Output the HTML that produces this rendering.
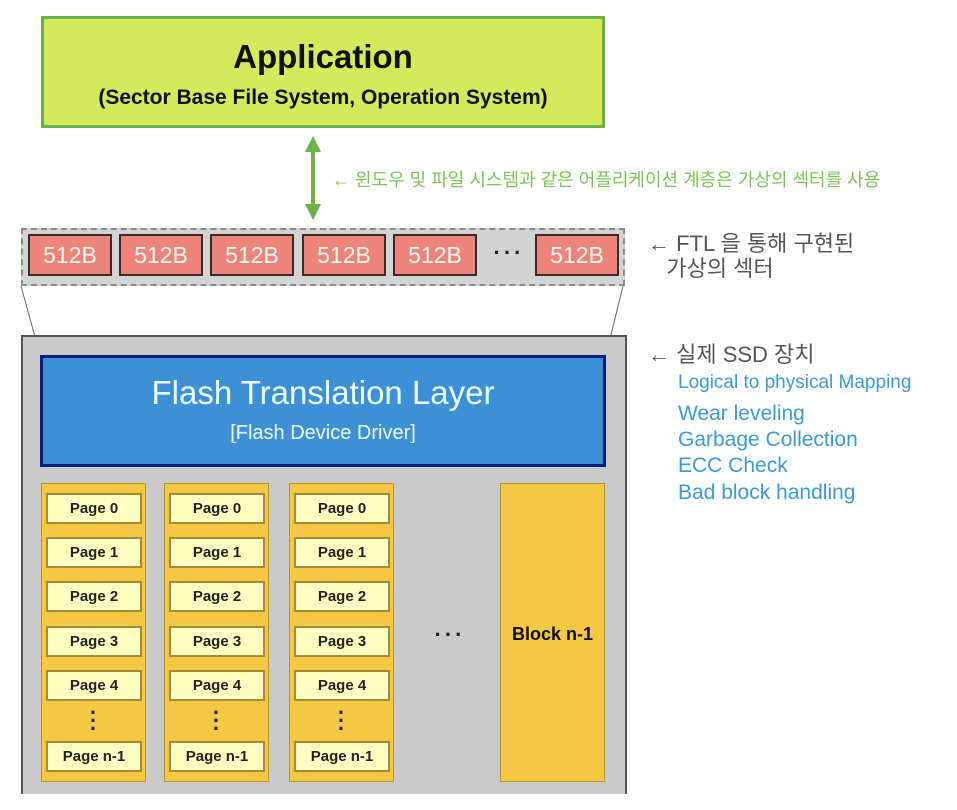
<!DOCTYPE html>
<html><head><meta charset="utf-8"><style>
body{margin:0;width:957px;height:810px;background:#fff;position:relative;overflow:hidden;font-family:"Liberation Sans","Noto Sans CJK KR",sans-serif}
.a{position:absolute;box-sizing:border-box}
.sec{top:234px;height:42px;width:84px;background:#ec8479;border:2px solid #3a2a28;color:#fff8f0;font-size:23px;text-align:center;line-height:38px}
.blk{top:483px;height:299px;width:105px;background:#f5c843;border:1px solid #b99228}
.pg{left:4px;width:96px;height:31px;background:#ffffc2;border:2px solid #a48b3a;font-size:15px;font-weight:bold;text-align:center;line-height:27px;color:#222;box-sizing:border-box;position:absolute}
.vd{position:absolute;left:0;width:100%;top:225px;text-align:center;font-size:22px;font-weight:bold;line-height:8px;color:#222}
.bl{color:#3c9ad2;font-size:21px;left:678px}
</style></head><body>
<div class="a" style="left:41px;top:16px;width:564px;height:112px;background:#d5ea5a;border:3px solid #6cb249"></div>
<div class="a" style="left:41px;top:38px;width:564px;text-align:center;font-size:33px;font-weight:bold;color:#111">Application</div>
<div class="a" style="left:41px;top:86px;width:564px;text-align:center;font-size:21px;color:#111;font-weight:bold">(Sector Base File System, Operation System)</div>
<svg class="a" style="left:0;top:0" width="957" height="810">
<line x1="313" y1="146" x2="313" y2="210" stroke="#6cb249" stroke-width="4"/>
<polygon points="313,136 305,152 321,152" fill="#6cb249"/>
<polygon points="313,220 305,204 321,204" fill="#6cb249"/>
<line x1="21" y1="286" x2="40" y2="355" stroke="#666" stroke-width="1"/>
<line x1="623" y1="286" x2="606" y2="355" stroke="#666" stroke-width="1"/>
</svg>
<div class="a" style="left:332px;top:166px;font-size:18px;color:#7cc35a;white-space:nowrap">← 윈도우 및 파일 시스템과 같은 어플리케이션 계층은 가상의 섹터를 사용</div>
<div class="a" style="left:21px;top:228px;width:604px;height:58px;background:#d3d3d3;border:2px dashed #8a8a8a"></div>
<div class="a sec" style="left:28px">512B</div>
<div class="a sec" style="left:119px">512B</div>
<div class="a sec" style="left:210px">512B</div>
<div class="a sec" style="left:302px">512B</div>
<div class="a sec" style="left:393px">512B</div>
<div class="a" style="left:484px;top:240px;width:50px;text-align:center;font-size:22px;font-weight:bold;color:#222;letter-spacing:3px">···</div>
<div class="a sec" style="left:535px">512B</div>
<div class="a" style="left:648px;top:231px;font-size:22px;color:#555;line-height:25px">← FTL 을 통해 구현된<br>&nbsp;&nbsp;&nbsp;가상의 섹터</div>
<div class="a" style="left:21px;top:335px;width:606px;height:475px;background:#cacaca;border:2px solid #555;border-bottom:none"></div>
<div class="a" style="left:40px;top:355px;width:566px;height:112px;background:#3e90d6;border:3px solid #0a1e80"></div>
<div class="a" style="left:40px;top:374px;width:566px;text-align:center;font-size:33px;color:#eaffff">Flash Translation Layer</div>
<div class="a" style="left:40px;top:422px;width:566px;text-align:center;font-size:20px;color:#eaffff">[Flash Device Driver]</div>
<div class="a" style="left:648px;top:337px;font-size:22px;color:#555">← 실제 SSD 장치</div>
<div class="a bl" style="top:372px;font-size:19px">Logical to physical Mapping</div>
<div class="a bl" style="top:402px">Wear leveling</div>
<div class="a bl" style="top:428px">Garbage Collection</div>
<div class="a bl" style="top:454px">ECC Check</div>
<div class="a bl" style="top:481px">Bad block handling</div>

<div class="a blk" style="left:41px">
<div class="pg" style="top:9px">Page 0</div><div class="pg" style="top:53px">Page 1</div><div class="pg" style="top:97px">Page 2</div><div class="pg" style="top:142px">Page 3</div><div class="pg" style="top:186px">Page 4</div><div class="vd">·<br>·<br>·</div><div class="pg" style="top:257px">Page n-1</div></div>
<div class="a blk" style="left:164px">
<div class="pg" style="top:9px">Page 0</div><div class="pg" style="top:53px">Page 1</div><div class="pg" style="top:97px">Page 2</div><div class="pg" style="top:142px">Page 3</div><div class="pg" style="top:186px">Page 4</div><div class="vd">·<br>·<br>·</div><div class="pg" style="top:257px">Page n-1</div></div>
<div class="a blk" style="left:289px">
<div class="pg" style="top:9px">Page 0</div><div class="pg" style="top:53px">Page 1</div><div class="pg" style="top:97px">Page 2</div><div class="pg" style="top:142px">Page 3</div><div class="pg" style="top:186px">Page 4</div><div class="vd">·<br>·<br>·</div><div class="pg" style="top:257px">Page n-1</div></div>
<div class="a" style="left:420px;top:622px;width:60px;text-align:center;font-size:22px;font-weight:bold;color:#222;letter-spacing:3px">···</div>
<div class="a blk" style="left:500px;width:105px"><div style="position:absolute;top:140px;width:100%;text-align:center;font-size:18px;font-weight:bold;color:#111">Block n-1</div></div>
<div class="a" style="left:0;top:794px;width:957px;height:16px;background:#fff"></div>
</body></html>
